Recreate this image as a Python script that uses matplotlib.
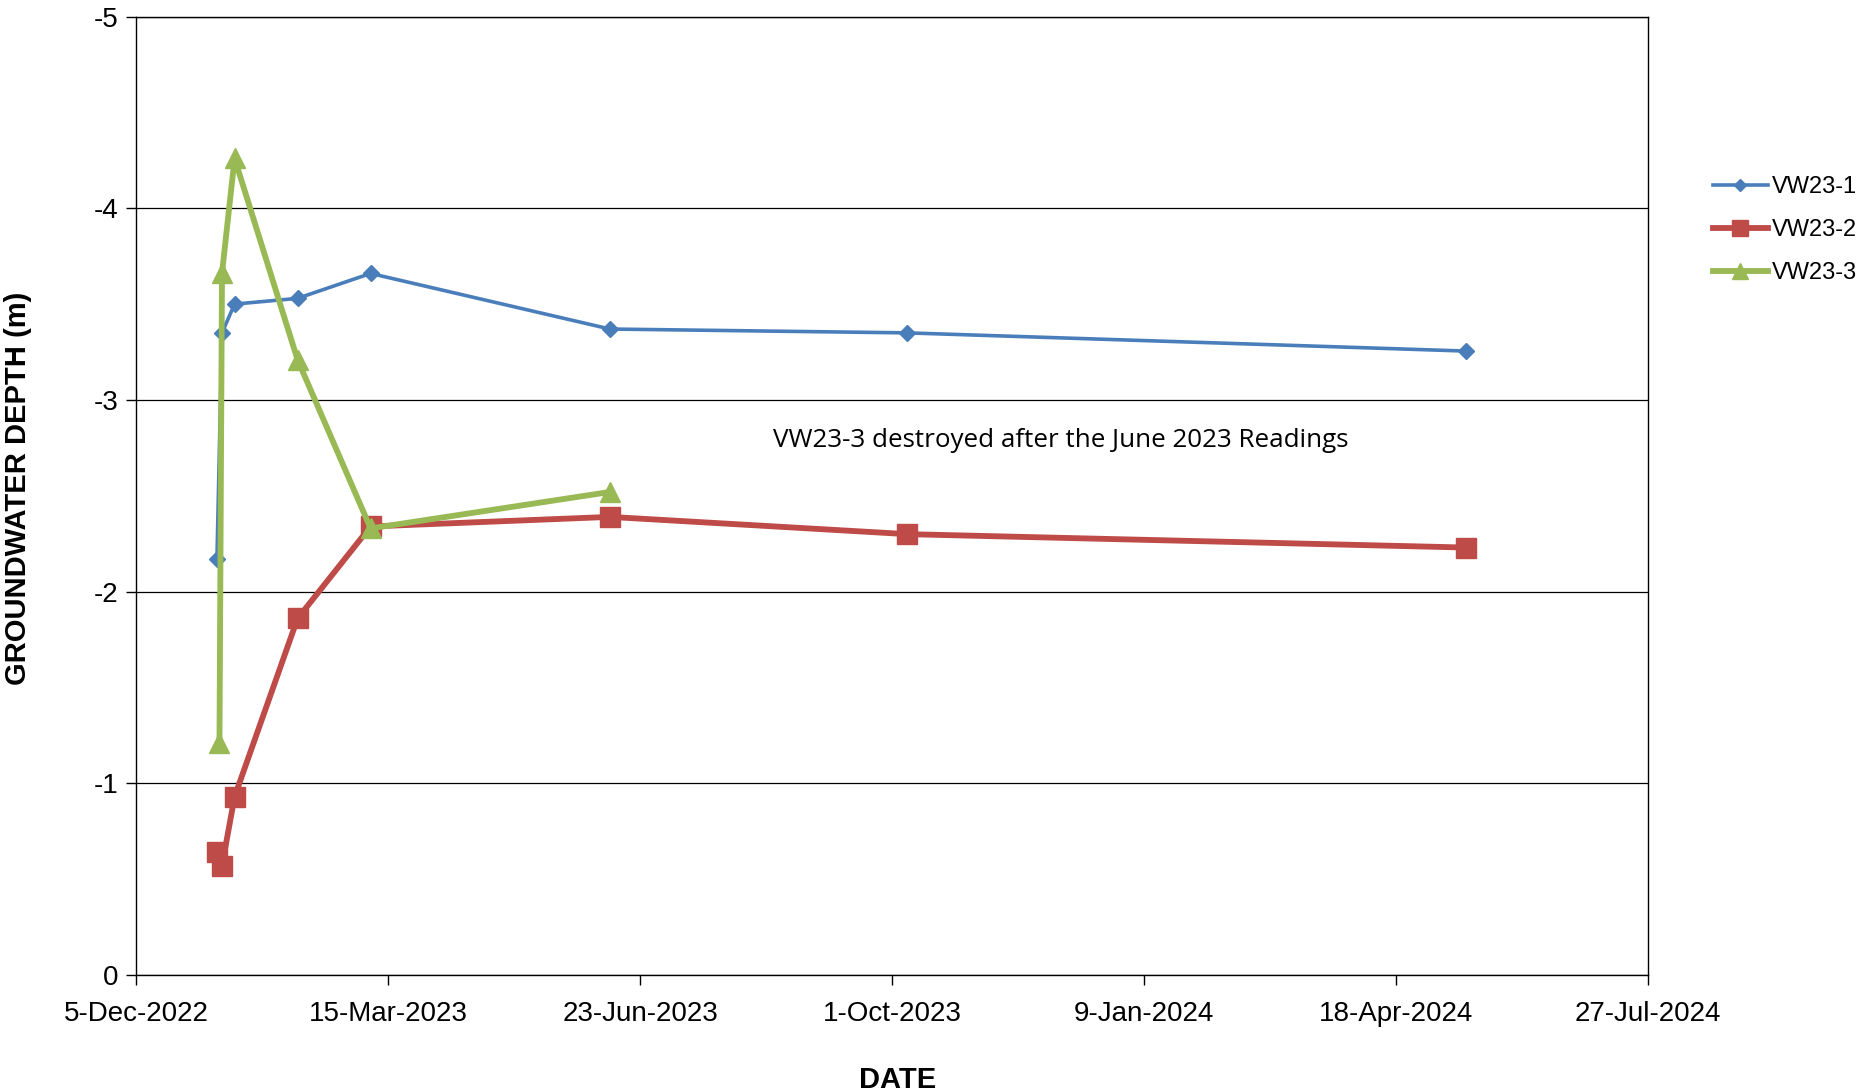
import matplotlib
matplotlib.use("Agg")
import matplotlib.pyplot as plt
from datetime import datetime, timedelta

# Groundwater readings (depth, m; negative = below reference)
dates_vw1 = ["2023-01-06", "2023-01-08", "2023-01-13", "2023-02-07", "2023-03-08",
             "2023-06-11", "2023-10-07", "2024-05-16"]
depth_vw1 = [-2.17, -3.35, -3.50, -3.53, -3.66, -3.37, -3.35, -3.255]

dates_vw2 = ["2023-01-06", "2023-01-08", "2023-01-13", "2023-02-07", "2023-03-08",
             "2023-06-11", "2023-10-07", "2024-05-16"]
depth_vw2 = [-0.64, -0.57, -0.93, -1.86, -2.34, -2.39, -2.30, -2.23]

dates_vw3 = ["2023-01-07", "2023-01-08", "2023-01-13", "2023-02-07", "2023-03-08",
             "2023-06-11"]
depth_vw3 = [-1.21, -3.66, -4.26, -3.21, -2.33, -2.52]

series_names = ["VW23-1", "VW23-2", "VW23-3"]
x_start = "2022-12-05"
x_end = "2024-07-27"
y_ticks = [0, -1, -2, -3, -4, -5]
note_text = "VW23-3 destroyed after the June 2023 Readings"


def to_dt(lst):
    return [datetime.strptime(s, "%Y-%m-%d") for s in lst]


fig = plt.figure(figsize=(18.6, 10.91), dpi=100)
ax = fig.add_axes([0.0733, 0.1063, 0.8126, 0.8785])

font = "Liberation Sans"

ax.plot(to_dt(dates_vw1), depth_vw1, color="#4A7EBB", lw=2.6, marker="D",
        ms=8.5, label=series_names[0], zorder=3)
ax.plot(to_dt(dates_vw2), depth_vw2, color="#BE4B48", lw=4.2, marker="s",
        ms=14.5, label=series_names[1], zorder=4)
ax.plot(to_dt(dates_vw3), depth_vw3, color="#98B954", lw=4.2, marker="^",
        ms=15, label=series_names[2], zorder=5)

d0 = datetime.strptime(x_start, "%Y-%m-%d")
d1 = datetime.strptime(x_end, "%Y-%m-%d")
ax.set_xlim(d0, d1)
xt = [d0 + timedelta(days=100 * k) for k in range(7)]
ax.set_xticks(xt)
ax.set_xticklabels([f"{d.day}-{d.strftime('%b-%Y')}" for d in xt],
                   fontfamily=font, fontsize=20)

ax.set_ylim(0, -5)
ax.set_yticks(y_ticks)
ax.set_yticklabels([str(v) for v in y_ticks], fontfamily=font, fontsize=20)

ax.grid(axis="y", color="black", lw=0.9)
ax.set_axisbelow(True)
for sp in ax.spines.values():
    sp.set_color("black")
    sp.set_linewidth(1.0)
ax.tick_params(axis="both", direction="out", length=7, width=1.0, colors="black")
ax.tick_params(axis="x", pad=12)
ax.tick_params(axis="y", pad=6)

ax.set_xlabel("DATE", fontfamily=font, fontsize=21, fontweight="bold")
ax.xaxis.set_label_coords(0.504, -0.095)
ax.set_ylabel("GROUNDWATER DEPTH (m)", fontfamily=font, fontsize=21,
              fontweight="bold")
ax.yaxis.set_label_coords(-0.069, 0.5075)

ax.text(d0 + timedelta(days=367), -2.79, note_text, fontfamily="Open Sans",
        fontsize=18.7, ha="center", va="center")

leg = fig.legend(loc="upper left", bbox_to_anchor=(0.916, 0.8475), frameon=False,
                 prop={"family": font, "size": 17}, handlelength=2.3,
                 handletextpad=0.2, labelspacing=0.9, borderaxespad=0)
for h in leg.legend_handles:
    h.set_markersize(h.get_markersize() * 0.75)

fig.savefig("out.png", dpi=100)
